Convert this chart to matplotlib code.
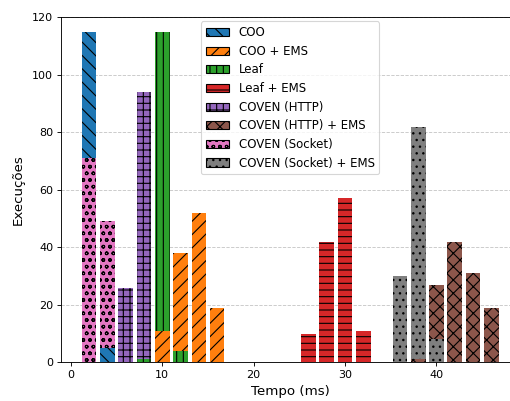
import numpy as np
import matplotlib.pyplot as plt
from matplotlib.patches import Patch

# --------------------------
# Data: counts per 2 ms bin
# --------------------------
bin_centers = np.arange(2, 47, 2)  # 2, 4, ..., 46

labels = [
    "COO",
    "COO + EMS",
    "Leaf",
    "Leaf + EMS",
    "COVEN (HTTP)",
    "COVEN (HTTP) + EMS",
    "COVEN (Socket)",
    "COVEN (Socket) + EMS",
]

#            2   4  6  8  10  12  14  16 18 20 22 24 26  28  30  32 34  36  38  40  42  44  46
coo       = [115, 5, 0, 0,  0,  0,  0,  0, 0, 0, 0, 0,  0,  0,  0,  0, 0,  0,  0,  0,  0,  0,  0]
coo_ems   = [0,   0, 0, 0, 11, 38, 52, 19, 0, 0, 0, 0,  0,  0,  0,  0, 0,  0,  0,  0,  0,  0,  0]
leaf      = [0,   0, 0, 1, 115, 4,  0,  0, 0, 0, 0, 0,  0,  0,  0,  0, 0,  0,  0,  0,  0,  0,  0]
leaf_ems  = [0,   0, 0, 0,  0,  0,  0,  0, 0, 0, 0, 0, 10, 42, 57, 11, 0,  0,  0,  0,  0,  0,  0]
http      = [0,   0, 26, 94, 0, 0,  0,  0, 0, 0, 0, 0,  0,  0,  0,  0, 0,  0,  0,  0,  0,  0,  0]
http_ems  = [0,   0, 0, 0,  0,  0,  0,  0, 0, 0, 0, 0,  0,  0,  0,  0, 0,  0,  1, 27, 42, 31, 19]
socket    = [71, 49, 0, 0,  0,  0,  0,  0, 0, 0, 0, 0,  0,  0,  0,  0, 0,  0,  0,  0,  0,  0,  0]
socket_ems = [0,  0, 0, 0,  0,  0,  0,  0, 0, 0, 0, 0,  0,  0,  0,  0, 0, 30, 82,  8,  0,  0,  0]

series = [coo, coo_ems, leaf, leaf_ems, http, http_ems, socket, socket_ems]
colors = ["C0", "C1", "C2", "C3", "C4", "C5", "C6", "C7"]
hatches = ["\\\\", "//", "||", "--", "++", "xx", "oo", ".."]

# --------------------------
# Plot
# --------------------------
fig = plt.figure(figsize=(510 / 80, 401 / 80), dpi=80)
ax = fig.add_axes([0.1196, 0.0965, 0.899, 0.8603])

counts = np.array(series)
for j, x in enumerate(bin_centers):
    # taller bars go behind, shorter ones in front
    order = np.argsort(-counts[:, j], kind="stable")
    for rank, i in enumerate(order):
        if counts[i, j] == 0:
            continue
        ax.bar(x, counts[i, j], width=1.6, color=colors[i], hatch=hatches[i],
               edgecolor="black", linewidth=0, zorder=2 + rank)

handles = [Patch(facecolor=c, edgecolor="black", hatch=h, label=l)
           for c, h, l in zip(colors, hatches, labels)]
ax.legend(handles=handles, loc="upper center", bbox_to_anchor=(0.5, 1.0),
          fontsize=10.6, borderaxespad=0.35, labelspacing=0.48)

ax.set_ylim(0, 120)
ax.set_xlim(-1.08, 49.08)
ax.set_xticks([0, 10, 20, 30, 40])
ax.set_yticks(range(0, 121, 20))
ax.yaxis.grid(True, linestyle="--", alpha=0.7, zorder=0)
ax.set_axisbelow(True)
ax.set_xlabel("Tempo (ms)", fontsize=12)
ax.set_ylabel("Execuções", fontsize=12, labelpad=7)

fig.savefig("out.png", dpi=80)
